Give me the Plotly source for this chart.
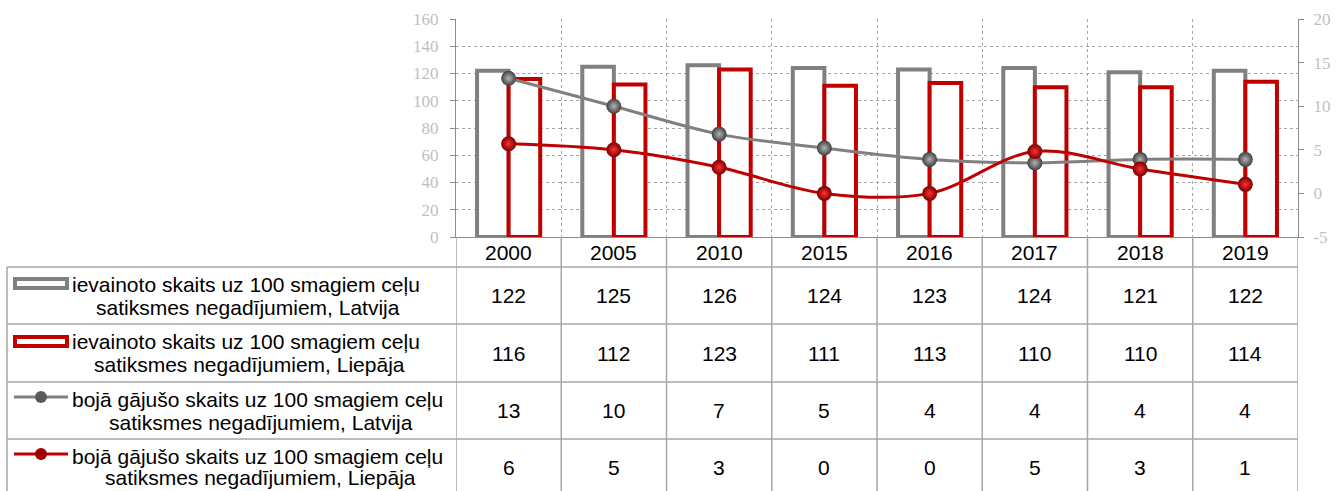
import plotly.graph_objects as go

years = ["2000", "2005", "2010", "2015", "2016", "2017", "2018", "2019"]
injured_latvija = [122, 125, 126, 124, 123, 124, 121, 122]
injured_liepaja = [116, 112, 123, 111, 113, 110, 110, 114]
killed_latvija = [13.2, 10.0, 6.8, 5.2, 3.9, 3.5, 3.9, 3.9]
killed_liepaja = [5.7, 5.0, 3.0, 0.0, 0.0, 4.8, 2.8, 1.04]

row_labels_line1 = [
    "ievainoto skaits uz 100 smagiem ceļu",
    "ievainoto skaits uz 100 smagiem ceļu",
    "bojā gājušo skaits uz 100 smagiem ceļu",
    "bojā gājušo skaits uz 100 smagiem ceļu",
]
row_labels_line2 = [
    "satiksmes negadījumiem, Latvija",
    "satiksmes negadījumiem, Liepāja",
    "satiksmes negadījumiem, Latvija",
    "satiksmes negadījumiem, Liepāja",
]
left_ticks = [0, 20, 40, 60, 80, 100, 120, 140, 160]
right_ticks = [-5, 0, 5, 10, 15, 20]
right_ticktext = ["-5", "0", "5", "10", "15", "20"]

GRAY = "#808080"
RED = "#C00000"
W, H = 1336, 491
FONT = "Liberation Sans"


def px(x):
    return x / W


def py(y):
    return 1 - y / H


fig = go.Figure()
fig.add_trace(go.Bar(x=years, y=injured_latvija, marker=dict(color="white", line=dict(color=GRAY, width=4)),
                     showlegend=False))
fig.add_trace(go.Bar(x=years, y=injured_liepaja, marker=dict(color="white", line=dict(color=RED, width=4)),
                     showlegend=False))
fig.add_trace(go.Scatter(x=years, y=killed_latvija, yaxis="y2", mode="lines+markers",
                         line=dict(color=GRAY, width=3, shape="spline"),
                         marker=dict(size=15, color="#404040", line=dict(width=0),
                                     gradient=dict(type="radial", color="#B4B4B4")),
                         showlegend=False))
fig.add_trace(go.Scatter(x=years, y=killed_liepaja, yaxis="y2", mode="lines+markers",
                         line=dict(color=RED, width=3, shape="spline"),
                         marker=dict(size=15, color="#7A0000", line=dict(width=0),
                                     gradient=dict(type="radial", color="#FF3030")),
                         showlegend=False))

x0, x1 = 456, 1298
top, bottom = 19, 237

fig.update_layout(
    width=W, height=H, margin=dict(l=0, r=0, t=0, b=0, autoexpand=False),
    paper_bgcolor="white", plot_bgcolor="white",
    barmode="group", bargap=0.4, bargroupgap=0.0,
    xaxis=dict(domain=[px(x0), px(x1)], type="category", range=[-0.5, 7.5],
               tickson="boundaries", showgrid=True, gridcolor="#A6A6A6", griddash="dot", gridwidth=1,
               showline=True, linecolor="#8C8C8C", linewidth=1, ticks="", showticklabels=False),
    yaxis=dict(domain=[py(bottom), py(top)], range=[0, 160], tickvals=left_ticks,
               showgrid=True, gridcolor="#A6A6A6", griddash="dot", gridwidth=1,
               zeroline=False, showline=True, linecolor="#8C8C8C", ticks="outside", ticklen=5,
               tickcolor="#8C8C8C",
               tickfont=dict(family="Liberation Serif", size=17, color="#BFBFBF"),
               ticklabelstandoff=8),
    yaxis2=dict(overlaying="y", side="right", anchor="x", range=[-5, 20], tickvals=right_ticks,
                ticktext=right_ticktext, showgrid=False, zeroline=False, showline=True,
                linecolor="#8C8C8C", ticks="outside", ticklen=5, tickcolor="#8C8C8C",
                tickfont=dict(family="Liberation Serif", size=17, color="#BFBFBF"),
                ticklabelstandoff=6),
)

LINE = "#A6A6A6"
shapes = []
row_lines = [267, 324, 382, 439, 496]
for yl in row_lines:
    shapes.append(dict(type="line", xref="paper", yref="paper", x0=px(7), x1=px(x1),
                       y0=py(yl), y1=py(yl), line=dict(color=LINE, width=1.5)))
shapes.append(dict(type="line", xref="paper", yref="paper", x0=px(7), x1=px(7),
                   y0=py(267), y1=py(496), line=dict(color=LINE, width=1.5)))
for i in range(len(years) + 1):
    shapes.append(dict(type="line", xref="x", yref="paper", x0=i - 0.5, x1=i - 0.5,
                       y0=py(bottom), y1=py(496), line=dict(color=LINE, width=1.5)))

# legend keys inside table
shapes.append(dict(type="rect", xref="paper", yref="paper", x0=px(15), x1=px(67),
                   y0=py(279), y1=py(288), line=dict(color=GRAY, width=4), fillcolor="white"))
shapes.append(dict(type="rect", xref="paper", yref="paper", x0=px(15), x1=px(67),
                   y0=py(337), y1=py(346), line=dict(color=RED, width=4), fillcolor="white"))
for yk, col, dark in [(397, GRAY, "#5A5A5A"), (454, RED, "#A00000")]:
    shapes.append(dict(type="line", xref="paper", yref="paper", x0=px(14), x1=px(68),
                       y0=py(yk), y1=py(yk), line=dict(color=col, width=3)))
    shapes.append(dict(type="circle", xref="paper", yref="paper", x0=px(35), x1=px(47),
                       y0=py(yk + 6), y1=py(yk - 6), line=dict(width=0), fillcolor=dark))

annotations = []
for i, yr in enumerate(years):
    annotations.append(dict(xref="x", yref="paper", x=i, y=py(252), text=yr, showarrow=False,
                            xanchor="center", yanchor="middle",
                            font=dict(family=FONT, size=21, color="black")))
row_centers = [295.5, 353, 410.5, 467.5]
series_rows = [injured_latvija, injured_liepaja, killed_latvija, killed_liepaja]
for rc, vals in zip(row_centers, series_rows):
    for i, v in enumerate(vals):
        annotations.append(dict(xref="x", yref="paper", x=i, y=py(rc), text=f"{v:.0f}",
                                showarrow=False, xanchor="center", yanchor="middle",
                                font=dict(family=FONT, size=21, color="black")))
line2_centers = [248.5, 249, 260.5, 260.5]
for rc, l1, l2, c2 in zip(row_centers, row_labels_line1, row_labels_line2, line2_centers):
    annotations.append(dict(xref="paper", yref="paper", x=px(70), y=py(rc - 11.5), text=l1,
                            showarrow=False, xanchor="left", yanchor="middle",
                            font=dict(family=FONT, size=21, color="black")))
    annotations.append(dict(xref="paper", yref="paper", x=px(c2), y=py(min(rc + 11.5, 477.5)), text=l2,
                            showarrow=False, xanchor="center", yanchor="middle",
                            font=dict(family=FONT, size=21, color="black")))

fig.update_layout(shapes=shapes, annotations=annotations)
fig.write_html("out.html", config={"displayModeBar": False},
               post_script="document.body.style.margin='0';document.body.style.overflow='hidden';")
